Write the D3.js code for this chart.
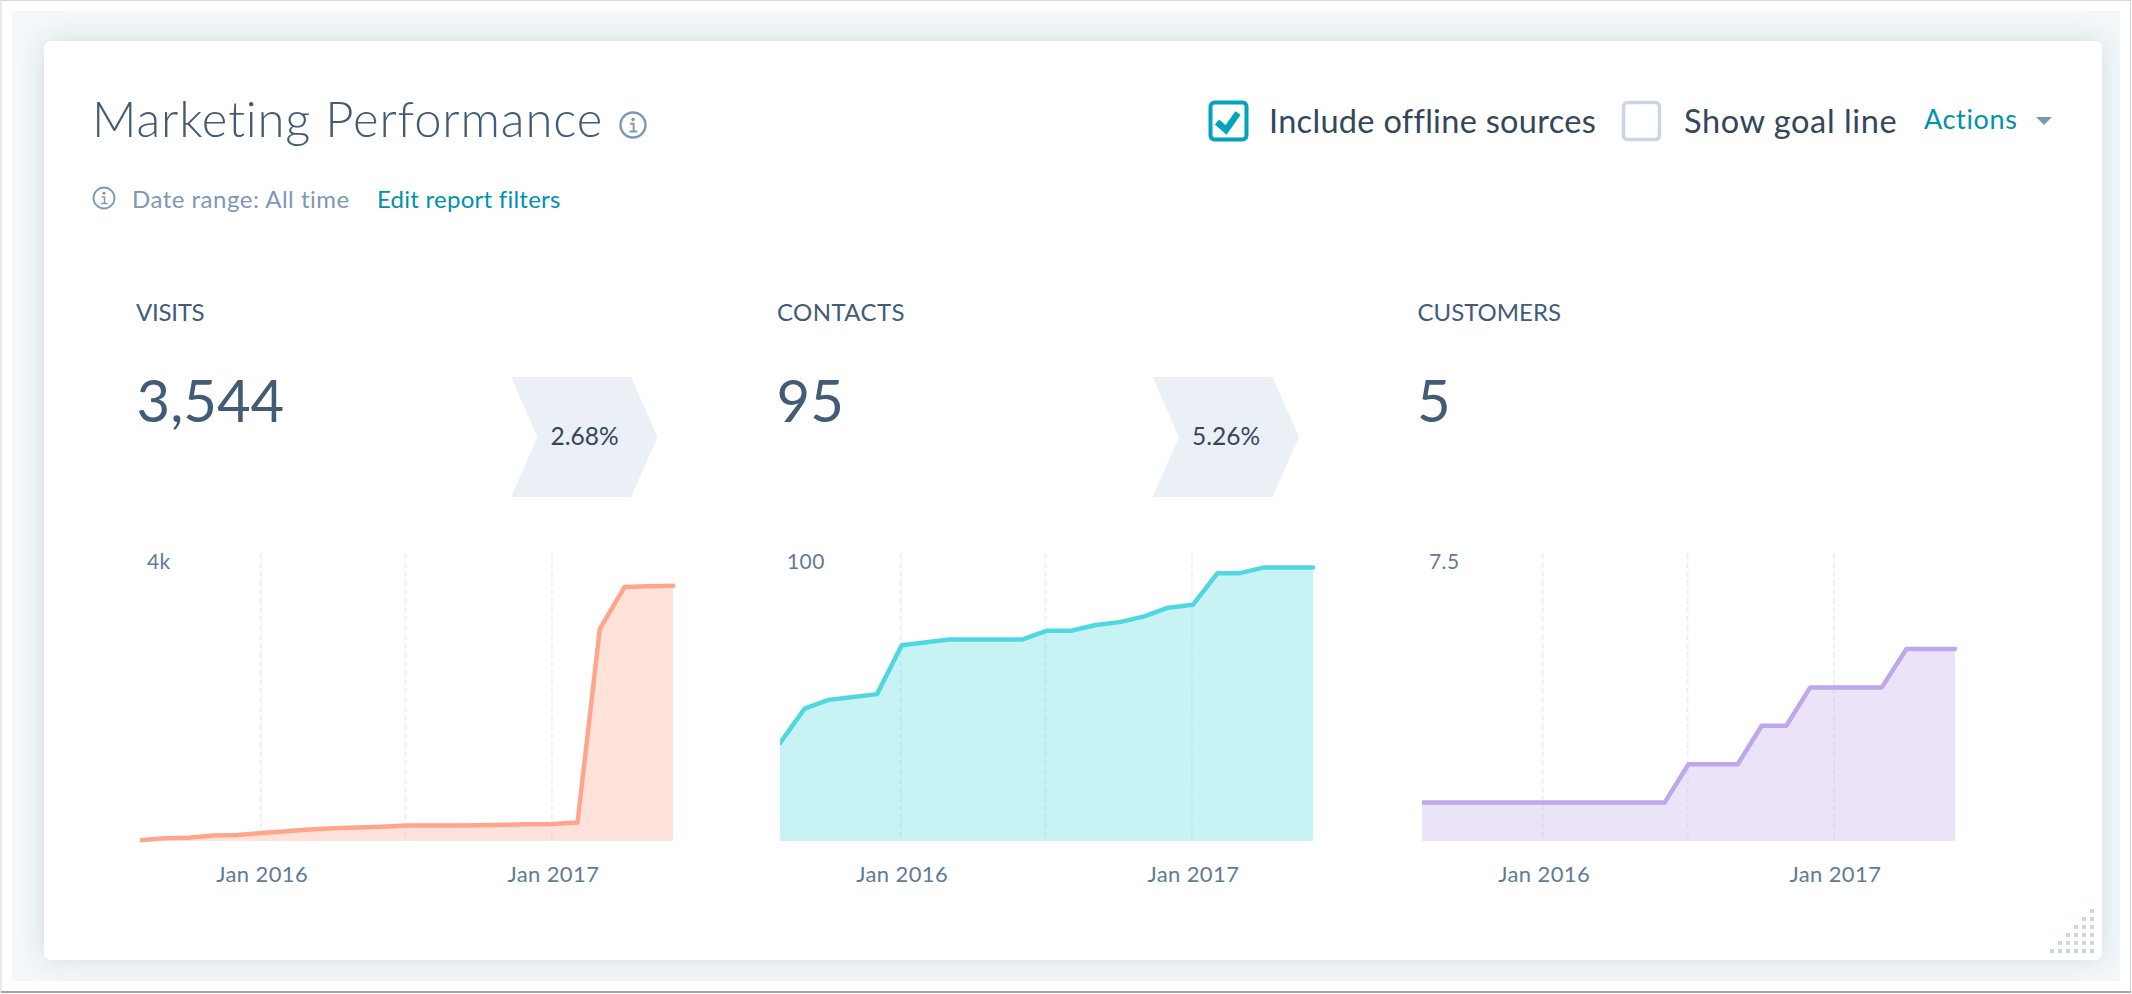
<!DOCTYPE html>
<html>
<head>
<meta charset="utf-8">
<script src="https://cdn.jsdelivr.net/npm/d3@7"></script>
<style>
  body { margin: 0; background: #fff; }
  text { font-family: Lato, "Open Sans", sans-serif; }
</style>
</head>
<body>
<svg id="chart" width="2132" height="994"></svg>
<script>
// monthly points, Aug 2015 - Jun 2017
const months = d3.timeMonth.range(new Date(2015, 7, 1), new Date(2017, 6, 1));
const gridDates = [new Date(2016, 0, 1), new Date(2016, 6, 1), new Date(2017, 0, 1)];
const tickDates = [new Date(2016, 0, 1), new Date(2017, 0, 1)];

const visits = [10, 38, 44, 77, 82, 110, 137, 160, 176, 187, 198, 214, 214, 214, 220, 225, 231, 236, 258, 2945, 3527, 3538, 3544];
const contacts = [34, 46, 49, 50, 51, 68, 69, 70, 70, 70, 70, 73, 73, 75, 76, 78, 81, 82, 93, 93, 95, 95, 95];
const customers = [1, 1, 1, 1, 1, 1, 1, 1, 1, 1, 1, 2, 2, 2, 3, 3, 4, 4, 4, 4, 5, 5, 5];

const names = ["VISITS", "CONTACTS", "CUSTOMERS"];
const totals = ["3,544", "95", "5"];
const rates = ["2.68%", "5.26%", null];
const yMax = [4000, 100, 7.5];
const yLabels = ["4k", "100", "7.5"];
const lineColors = ["#ffa58c", "#4fd8df", "#bfa7ec"];
const series = [visits, contacts, customers];

const navy = "#425b76", dark = "#33475b", teal = "#0091ae", slate = "#5f7b98";
const svg = d3.select("#chart");

// frame around the screenshot
svg.append("rect").attr("x", 1).attr("y", 0.5).attr("width", 2129.5).attr("height", 991.5)
  .attr("fill", "#fff").attr("stroke", "#d4d6d8").attr("stroke-width", 1);
svg.append("line").attr("x1", 1).attr("x2", 2131).attr("y1", 992).attr("y2", 992)
  .attr("stroke", "#8d8f91").attr("stroke-width", 1.5);
svg.append("rect").attr("x", 12).attr("y", 11).attr("width", 2108).attr("height", 970).attr("fill", "#f5f8fa");

const defs = svg.append("defs");
const shadow = defs.append("filter").attr("id", "cardShadow")
  .attr("x", "-5%").attr("y", "-10%").attr("width", "110%").attr("height", "120%");
shadow.append("feDropShadow").attr("dx", 0).attr("dy", 0).attr("stdDeviation", 13)
  .attr("flood-color", "#33475b").attr("flood-opacity", 0.16);
defs.append("clipPath").attr("id", "panelClip").append("rect")
  .attr("x", 12).attr("y", 11).attr("width", 2108).attr("height", 970);

svg.append("g").attr("clip-path", "url(#panelClip)").append("rect")
  .attr("x", 44).attr("y", 41).attr("width", 2058).attr("height", 919).attr("rx", 7)
  .attr("fill", "#fff").attr("filter", "url(#cardShadow)");

function label(x, y, str, size, color, weight) {
  return svg.append("text").attr("x", x).attr("y", y).attr("font-size", size)
    .attr("fill", color).attr("font-weight", weight || 400).text(str);
}

function infoIcon(cx, cy, r, width) {
  const g = svg.append("g").attr("transform", `translate(${cx},${cy})`).attr("fill", "#7c98b6");
  g.append("circle").attr("r", r).attr("fill", "none").attr("stroke", "#7c98b6").attr("stroke-width", width);
  g.append("circle").attr("cy", -r * 0.45).attr("r", r * 0.14);
  g.append("path").attr("fill", "none").attr("stroke", "#7c98b6").attr("stroke-width", width * 0.8)
    .attr("d", `M${-r * 0.22},${-r * 0.1}H${r * 0.05}V${r * 0.52}M${-r * 0.28},${r * 0.52}H${r * 0.34}`);
}

// header
label(92, 137, "Marketing Performance", 49, navy, 300).attr("letter-spacing", 0.85);
infoIcon(633, 125, 12.5, 2.4);
infoIcon(104, 198, 10.5, 1.8);
label(132, 208, "Date range: All time", 24, "#7c98b6").attr("letter-spacing", 0.5);
label(377, 208, "Edit report filters", 24, teal).attr("letter-spacing", 0.25);

// checkboxes
svg.append("rect").attr("x", 1210.5).attr("y", 102.5).attr("width", 36).attr("height", 37).attr("rx", 4)
  .attr("fill", "#fff").attr("stroke", "#00a4bd").attr("stroke-width", 4);
svg.append("path").attr("d", "M1217,122L1226,130L1238,113").attr("fill", "none")
  .attr("stroke", "#00a4bd").attr("stroke-width", 6.5);
label(1269, 133, "Include offline sources", 32.5, dark).attr("letter-spacing", 0.3);
svg.append("rect").attr("x", 1623.5).attr("y", 102.5).attr("width", 36).attr("height", 37).attr("rx", 4)
  .attr("fill", "#fff").attr("stroke", "#cbd6e2").attr("stroke-width", 3.5);
label(1684, 133, "Show goal line", 32.5, dark).attr("letter-spacing", 0.6);
label(1924, 129, "Actions", 27, teal).attr("letter-spacing", 0.65);
svg.append("path").attr("d", "M2036,117h16l-8,8z").attr("fill", "#7c98b6");

// one column per metric
const panelLefts = [140, 780, 1422];
const headLefts = [136, 777, 1417.5];
const valueLefts = [136.5, 776.5, 1417];
const chevronLefts = [511, 1152.5];
const headSpacing = [-0.25, 0.4, 0];
const plotWidth = 533, plotTop = 553, plotBottom = 841;

names.forEach((name, i) => {
  const x = d3.scaleTime().domain([months[0], months[months.length - 1]])
    .range([panelLefts[i], panelLefts[i] + plotWidth]);
  const y = d3.scaleLinear().domain([0, yMax[i]]).range([plotBottom, plotTop]);

  label(headLefts[i], 321, name, 24, navy).attr("letter-spacing", headSpacing[i]);
  label(valueLefts[i], 422, totals[i], 58, navy);

  if (rates[i]) {
    const c = chevronLefts[i];
    svg.append("path").attr("fill", "#eaf0f6")
      .attr("d", `M${c},377H${c + 120}L${c + 146.5},437L${c + 120},497H${c}L${c + 26.5},437Z`);
    label(c + 39.5, 445, rates[i], 24.5, dark);
  }

  // the line is cut square where it meets the left edge of the plot
  defs.append("clipPath").attr("id", "plotClip" + i).append("rect")
    .attr("x", panelLefts[i]).attr("y", plotTop - 10)
    .attr("width", plotWidth + 10).attr("height", plotBottom - plotTop + 20);

  const g = svg.append("g");
  g.selectAll("line.grid").data(gridDates).join("line").attr("class", "grid")
    .attr("x1", d => x(d) - 1).attr("x2", d => x(d) - 1)
    .attr("y1", plotTop).attr("y2", plotBottom)
    .attr("stroke", "#eef2f6").attr("stroke-width", 2).attr("stroke-dasharray", "6 3");

  const points = months.map((m, k) => [m, series[i][k]]);
  g.append("path").datum(points).attr("fill", lineColors[i]).attr("fill-opacity", 0.31)
    .attr("d", d3.area().x(d => x(d[0])).y0(plotBottom).y1(d => y(d[1])));
  g.append("path").datum(points).attr("fill", "none").attr("stroke", lineColors[i])
    .attr("clip-path", `url(#plotClip${i})`)
    .attr("stroke-width", 4.5).attr("stroke-linecap", "round").attr("stroke-linejoin", "round")
    .attr("d", d3.line().x(d => x(d[0])).y(d => y(d[1])));

  const axis = d3.axisBottom(x).tickValues(tickDates).tickFormat(d3.timeFormat("%b %Y")).tickSize(0).tickPadding(0);
  const ax = g.append("g").attr("transform", `translate(0,${plotBottom + 25})`).call(axis);
  ax.select(".domain").remove();
  ax.selectAll("text").attr("font-size", 22).attr("fill", slate).attr("letter-spacing", 0.4)
    .attr("font-family", "Lato").attr("dy", "0.71em");

  label(panelLefts[i] + 7, 569, yLabels[i], 21, slate).attr("letter-spacing", 0.4);
});

// resize handle dots
const gripCols = d3.range(6), gripRows = d3.range(6);
const grip = svg.append("g").attr("fill", "#cbd6e2");
gripRows.forEach(r => gripCols.filter(c => c >= 5 - r).forEach(c => {
  grip.append("rect").attr("x", 2050 + c * 8).attr("y", 909 + r * 8).attr("width", 4).attr("height", 4);
}));
</script>
</body>
</html>
